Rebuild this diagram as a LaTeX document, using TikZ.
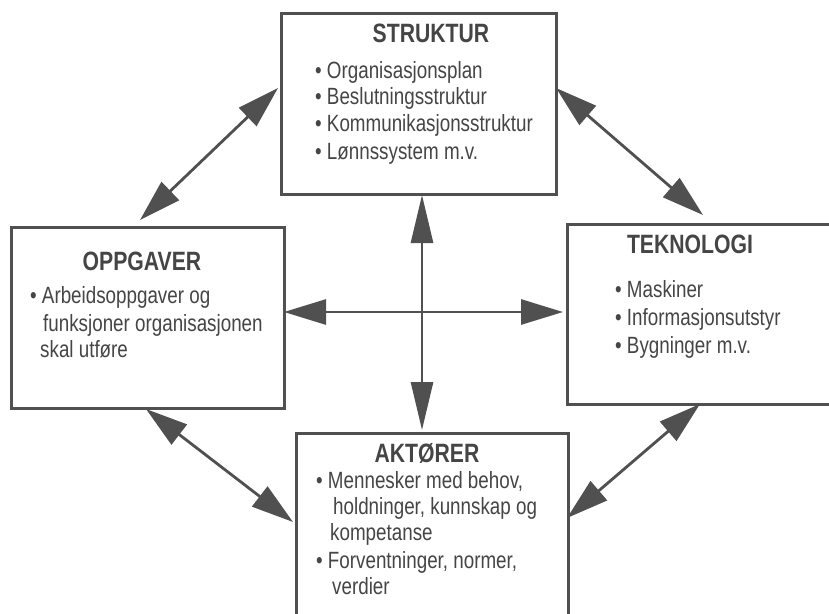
\documentclass[tikz,border=0pt]{standalone}
\usepackage{fontspec}
\setmainfont[FakeStretch=0.8]{Liberation Sans}
\usetikzlibrary{arrows.meta}
\definecolor{ink}{HTML}{505050}
\definecolor{txt}{HTML}{454545}
\begin{document}
\begin{tikzpicture}[x=1pt,y=-1pt,
  box/.style={draw=ink,line width=2.6pt,inner sep=0pt,anchor=north west},
  rel/.style={draw=ink,fill=ink,line width=2.8pt,{Triangle[length=42pt,width=25pt]}-{Triangle[length=42pt,width=25pt]}},
  vrel/.style={draw=ink,fill=ink,line width=2.8pt,{Triangle[length=48pt,width=22pt]}-{Triangle[length=48pt,width=22pt]}},
  ttl/.style={anchor=base,font=\fontsize{26.5}{30}\selectfont\bfseries,text=txt,inner sep=0pt},
  itm/.style={anchor=base west,font=\fontsize{23.5}{27}\selectfont,text=txt,inner sep=0pt}]
\useasboundingbox (0,0) rectangle (829,613);
\clip (0,0) rectangle (829,613);
\fill[white] (0,0) rectangle (829,613);

% boxes
\node[box,minimum width=275pt,minimum height=181pt] (S) at (280,12) {};
\node[box,minimum width=273pt,minimum height=181pt] (O) at (10,226) {};
\node[box,minimum width=274pt,minimum height=180pt] (T) at (566,223) {};
\node[box,minimum width=272pt,minimum height=210pt] (A) at (295,432) {};

% STRUKTUR
\node[ttl] (s0) at (431,42) {STRUKTUR};
\node[itm] (s1) at (315,78) {• Organisasjonsplan};
\node[itm] (s2) at (315,104) {• Beslutningsstruktur};
\node[itm] (s3) at (315,131) {• Kommunikasjonsstruktur};
\node[itm] (s4) at (315,159) {• Lønnssystem m.v.};

% OPPGAVER
\node[ttl] (o0) at (142,270) {OPPGAVER};
\node[itm] (o1) at (30,303) {• Arbeidsoppgaver og};
\node[itm] (o2) at (43,331) {funksjoner organisasjonen};
\node[itm] (o3) at (40,357) {skal utføre};

% TEKNOLOGI
\node[ttl] (t0) at (690,253) {TEKNOLOGI};
\node[itm] (t1) at (615,297) {• Maskiner};
\node[itm] (t2) at (615,325) {• Informasjonsutstyr};
\node[itm] (t3) at (615,353) {• Bygninger m.v.};

% AKTØRER
\node[ttl] (a0) at (427,462) {AKTØRER};
\node[itm] (a1) at (316,488) {• Mennesker med behov,};
\node[itm] (a2) at (333,514) {holdninger, kunnskap og};
\node[itm] (a3) at (330,540) {kompetanse};
\node[itm] (a4) at (316,568) {• Forventninger, normer,};
\node[itm] (a5) at (332,594) {verdier};

% connector ends
\coordinate (tlA) at (140,220);
\coordinate (tlB) at (278,88);
\coordinate (trA) at (556,88);
\coordinate (trB) at (703,215);
\coordinate (blA) at (146,409);
\coordinate (blB) at (293,522);
\coordinate (brA) at (700,404);
\coordinate (brB) at (567,518);
\coordinate (vA) at (422,195);
\coordinate (vB) at (422,430);
\coordinate (hA) at (284,312);
\coordinate (hB) at (563,312);

\draw[rel] (tlA) -- (tlB);
\draw[rel] (trA) -- (trB);
\draw[rel] (blA) -- (blB);
\draw[rel] (brA) -- (brB);
\draw[vrel] (vA) -- (vB);
\draw[rel] (hA) -- (hB);
\end{tikzpicture}
\end{document}
